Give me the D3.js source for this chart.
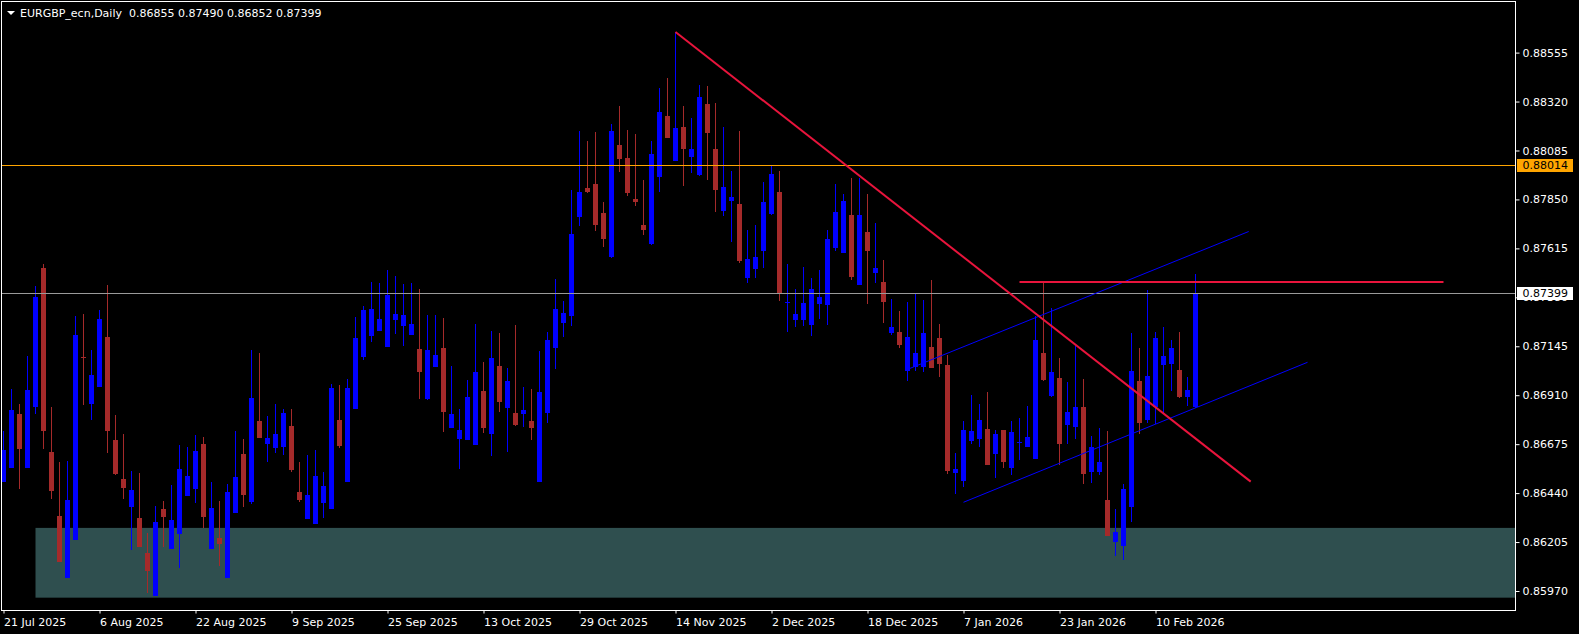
<!DOCTYPE html>
<html><head><meta charset="utf-8">
<script src="https://cdn.jsdelivr.net/npm/d3@7"></script>
<style>
html,body{margin:0;padding:0;background:#000;overflow:hidden}
svg{display:block}
</style></head><body>
<svg id="c" width="1579" height="634"></svg>
<script>
const chartTitle = "EURGBP_ecn,Daily  0.86855 0.87490 0.86852 0.87399";

const opens = [0.86495,0.86562,0.86820,0.86562,0.86855,0.87521,0.86637,0.86330,0.86034,0.86216,
0.87092,0.86869,0.86951,0.87190,0.86695,0.86508,0.86373,0.86321,0.86153,0.85948,
0.86364,0.86173,0.86245,0.86428,0.86461,0.86676,0.86173,0.86225,0.86034,0.86346,
0.86628,0.86399,0.86786,0.86677,0.86658,0.86662,0.86762,0.86445,0.86317,0.86293,
0.86394,0.86365,0.86791,0.86495,0.86845,0.87095,0.87196,0.87220,0.87143,0.87273,
0.87244,0.87201,0.87132,0.86893,0.87047,0.87137,0.86754,0.86701,0.86697,0.86673,
0.86930,0.86725,0.87050,0.86850,0.86825,0.86821,0.86786,0.86495,0.86826,0.87138,
0.87257,0.87292,0.87766,0.87905,0.87924,0.87785,0.87574,0.88111,0.88049,0.87852,
0.87727,0.87636,0.87958,0.88251,0.88035,0.88198,0.88054,0.87967,0.88308,0.88092,
0.87794,0.87842,0.87828,0.87473,0.87516,0.87602,0.87780,0.87886,0.87355,0.87271,
0.87271,0.87247,0.87350,0.87345,0.87618,0.87594,0.87775,0.87441,0.87694,0.87498,
0.87454,0.87210,0.87215,0.87026,0.87044,0.87046,0.87142,0.87185,0.87055,0.86537,
0.86498,0.86690,0.86700,0.86748,0.86628,0.86743,0.86561,0.86681,0.86662,0.86604,
0.87113,0.86906,0.86993,0.86767,0.86758,0.86854,0.86541,0.86541,0.86407,0.86207,
0.86188,0.86373,0.86978,0.86791,0.86854,0.87055,0.87060,0.87031,0.86902,0.86855];

const highs = [0.86738,0.86940,0.86868,0.87098,0.87434,0.87540,0.86854,0.86589,0.86594,0.87292,
0.87300,0.87127,0.87319,0.87439,0.86815,0.86724,0.86546,0.86537,0.86249,0.86378,
0.86402,0.86479,0.86671,0.86662,0.86719,0.86710,0.86493,0.86402,0.86484,0.86738,
0.86700,0.87127,0.87113,0.86810,0.86868,0.86844,0.86844,0.86589,0.86623,0.86647,
0.86541,0.86964,0.86959,0.86988,0.87286,0.87338,0.87454,0.87449,0.87511,0.87482,
0.87444,0.87449,0.87420,0.87295,0.87295,0.87281,0.87050,0.86844,0.86983,0.87252,
0.87070,0.87218,0.87209,0.87041,0.87247,0.86950,0.86940,0.87122,0.87214,0.87468,
0.87362,0.87895,0.88179,0.88131,0.88174,0.87838,0.88212,0.88299,0.88183,0.88164,
0.87943,0.88131,0.88385,0.88433,0.88654,0.88299,0.88241,0.88399,0.88395,0.88313,
0.88198,0.87986,0.88179,0.87703,0.87727,0.87934,0.88011,0.87986,0.87540,0.87420,
0.87526,0.87473,0.87511,0.87703,0.87924,0.87876,0.87953,0.87953,0.87876,0.87737,
0.87559,0.87372,0.87314,0.87358,0.87401,0.87367,0.87463,0.87252,0.87103,0.86633,
0.86786,0.86911,0.86868,0.86926,0.86743,0.86743,0.86786,0.86801,0.86858,0.87290,
0.87454,0.87329,0.87089,0.86974,0.87151,0.86988,0.86714,0.86753,0.86738,0.86364,
0.86484,0.87209,0.87137,0.87415,0.87214,0.87238,0.87175,0.87214,0.86998,0.87490];

const lows = [0.86495,0.86562,0.86461,0.86562,0.86820,0.86653,0.86413,0.86111,0.86034,0.86216,
0.86865,0.86793,0.86951,0.86634,0.86527,0.86413,0.86168,0.86183,0.85962,0.85948,
0.86183,0.86173,0.86082,0.86428,0.86394,0.86274,0.86173,0.86092,0.86034,0.86346,
0.86375,0.86389,0.86706,0.86591,0.86633,0.86623,0.86546,0.86399,0.86317,0.86293,
0.86322,0.86365,0.86658,0.86495,0.86845,0.87081,0.87167,0.87220,0.87143,0.87205,
0.87148,0.87201,0.86893,0.86889,0.87047,0.86735,0.86754,0.86557,0.86697,0.86673,
0.86730,0.86620,0.86831,0.86639,0.86764,0.86759,0.86697,0.86495,0.86778,0.87037,
0.87194,0.87247,0.87723,0.87881,0.87699,0.87622,0.87569,0.87982,0.87867,0.87819,
0.87684,0.87636,0.87886,0.88145,0.88035,0.87919,0.87977,0.87967,0.87948,0.87794,
0.87775,0.87650,0.87545,0.87449,0.87473,0.87521,0.87780,0.87367,0.87214,0.87242,
0.87247,0.87199,0.87277,0.87249,0.87604,0.87594,0.87465,0.87441,0.87350,0.87450,
0.87258,0.87201,0.87137,0.86983,0.87031,0.87022,0.87041,0.87002,0.86532,0.86436,
0.86474,0.86676,0.86662,0.86575,0.86513,0.86565,0.86527,0.86599,0.86662,0.86604,
0.86983,0.86906,0.86575,0.86676,0.86700,0.86484,0.86489,0.86527,0.86236,0.86140,
0.86119,0.86306,0.86724,0.86781,0.86772,0.86825,0.86935,0.86897,0.86863,0.86852];

const closes = [0.86647,0.86839,0.86653,0.86935,0.87380,0.86740,0.86452,0.86111,0.86407,0.87199,
0.87090,0.87007,0.87276,0.86740,0.86533,0.86466,0.86455,0.86183,0.86068,0.86301,
0.86325,0.86311,0.86556,0.86522,0.86642,0.86327,0.86369,0.86197,0.86445,0.86517,
0.86432,0.86897,0.86706,0.86705,0.86724,0.86825,0.86551,0.86408,0.86431,0.86522,
0.86474,0.86945,0.86668,0.86945,0.87185,0.87319,0.87324,0.87276,0.87391,0.87300,
0.87295,0.87252,0.87023,0.87127,0.87103,0.86831,0.86820,0.86743,0.86902,0.87022,
0.86754,0.87089,0.86879,0.86978,0.86769,0.86839,0.86754,0.86926,0.87175,0.87324,
0.87305,0.87684,0.87886,0.87886,0.87727,0.87660,0.88179,0.88044,0.87881,0.87838,
0.87703,0.88068,0.88270,0.88145,0.88193,0.88092,0.88092,0.88342,0.88169,0.87895,
0.87910,0.87862,0.87554,0.87564,0.87574,0.87838,0.87972,0.87396,0.87358,0.87300,
0.87353,0.87420,0.87382,0.87660,0.87790,0.87842,0.87479,0.87775,0.87604,0.87522,
0.87359,0.87238,0.87151,0.87190,0.87113,0.87209,0.87041,0.87060,0.86546,0.86556,
0.86743,0.86738,0.86791,0.86575,0.86724,0.86589,0.86733,0.86685,0.86710,0.87175,
0.86983,0.87022,0.86676,0.86830,0.86854,0.86532,0.86662,0.86589,0.86236,0.86253,
0.86460,0.87026,0.86777,0.87002,0.87185,0.87098,0.87137,0.86902,0.86935,0.87399];

const priceTicks = [0.88555,0.88320,0.88085,0.87850,0.87615,0.87380,0.87145,0.86910,0.86675,0.86440,0.86205,0.85970];
const dateTickBars = [0,12,24,36,48,60,72,84,96,108,120,132,144];
const dateTickLabels = ["21 Jul 2025","6 Aug 2025","22 Aug 2025","9 Sep 2025","25 Sep 2025","13 Oct 2025","29 Oct 2025","14 Nov 2025","2 Dec 2025","18 Dec 2025","7 Jan 2026","23 Jan 2026","10 Feb 2026"];

const levelPrice = 0.88014;
const bidPrice = 0.87399;
const zoneBars = [4, 200];
const zonePrices = [0.86273, 0.85938];
const trendBars = [84, 155.9];
const trendPrices = [0.88654, 0.86495];
const resistBars = [127, 180];
const resistPrices = [0.87454, 0.87454];
const upperChanBars = [112.8, 155.65];
const upperChanPrices = [0.87031, 0.87696];
const lowerChanBars = [120, 163];
const lowerChanPrices = [0.86396, 0.87068];

const W = 1579, H = 634;
const plot = {l: 1.5, r: 1515.5, t: 1.5, b: 610.5};
const FONT = '"DejaVu Sans", sans-serif';
const BULL = '#0000ff', BEAR = '#a52a2a', RED = '#e8143c';

const svg = d3.select('#c');
svg.append('rect').attr('width', W).attr('height', H).attr('fill', '#000');

const x = d3.scaleLinear().domain([0, 189]).range([3.5, 3.5 + 8 * 189]);
const y = d3.scaleLinear().domain([0.85970, 0.88555]).range([591.0, 52.6]);

svg.append('clipPath').attr('id', 'clip').append('rect')
  .attr('x', plot.l + 0.5).attr('y', plot.t + 0.5)
  .attr('width', plot.r - plot.l - 1).attr('height', plot.b - plot.t - 1);
const g = svg.append('g').attr('clip-path', 'url(#clip)');

// zone rectangle (background)
g.append('rect')
  .attr('x', x(zoneBars[0])).attr('y', y(zonePrices[0]))
  .attr('width', x(zoneBars[1]) - x(zoneBars[0]))
  .attr('height', y(zonePrices[1]) - y(zonePrices[0]))
  .attr('fill', '#2f4f4f');

// candles
const bars = opens.map((o, i) => ({i, o, h: highs[i], l: lows[i], c: closes[i]}));
const cg = g.append('g').attr('shape-rendering', 'crispEdges');
cg.selectAll('line.wick').data(bars).join('line')
  .attr('class', 'wick')
  .attr('x1', d => x(d.i)).attr('x2', d => x(d.i))
  .attr('y1', d => y(d.h)).attr('y2', d => y(d.l) + 0.5)
  .attr('stroke', d => d.c >= d.o ? BULL : BEAR).attr('stroke-width', 1);
cg.selectAll('rect.body').data(bars).join('rect')
  .attr('class', 'body')
  .attr('x', d => x(d.i) - 2.5).attr('width', 5)
  .attr('y', d => y(Math.max(d.o, d.c)))
  .attr('height', d => Math.max(1, y(Math.min(d.o, d.c)) - y(Math.max(d.o, d.c))))
  .attr('fill', d => d.c >= d.o ? BULL : BEAR);

// horizontal levels
g.append('line').attr('x1', plot.l).attr('x2', plot.r)
  .attr('y1', Math.round(y(levelPrice)) + 0.5).attr('y2', Math.round(y(levelPrice)) + 0.5)
  .attr('stroke', '#ffa500').attr('stroke-width', 1);
g.append('line').attr('x1', plot.l).attr('x2', plot.r)
  .attr('y1', Math.round(y(bidPrice)) + 0.5).attr('y2', Math.round(y(bidPrice)) + 0.5)
  .attr('stroke', '#9a9a9a').attr('stroke-width', 1);

// channel lines
const line = d3.line().x(d => x(d[0])).y(d => y(d[1]));
g.append('path').attr('d', line(d3.zip(upperChanBars, upperChanPrices)))
  .attr('stroke', BULL).attr('stroke-width', 1).attr('fill', 'none');
g.append('path').attr('d', line(d3.zip(lowerChanBars, lowerChanPrices)))
  .attr('stroke', BULL).attr('stroke-width', 1).attr('fill', 'none');
// trend + resistance
g.append('path').attr('d', line(d3.zip(trendBars, trendPrices)))
  .attr('stroke', RED).attr('stroke-width', 2).attr('fill', 'none');
g.append('path').attr('d', line(d3.zip(resistBars, resistPrices)))
  .attr('stroke', RED).attr('stroke-width', 2).attr('fill', 'none');

// price axis
const yAxis = d3.axisRight(y).tickValues(priceTicks).tickSize(4).tickPadding(3)
  .tickFormat(d3.format('.5f'));
svg.append('g').attr('transform', `translate(${plot.r},0)`).call(yAxis)
  .attr('font-family', FONT).attr('font-size', 11)
  .call(a => a.select('.domain').remove())
  .call(a => a.selectAll('line').attr('stroke', '#fff'))
  .call(a => a.selectAll('text').attr('fill', '#fff'));

// date axis
const xAxis = d3.axisBottom(x).tickValues(dateTickBars).tickSize(3).tickPadding(5)
  .tickFormat((d, i) => dateTickLabels[i]);
svg.append('g').attr('transform', `translate(0,${plot.b})`).call(xAxis)
  .attr('font-family', FONT).attr('font-size', 11)
  .call(a => a.select('.domain').remove())
  .call(a => a.selectAll('line').attr('stroke', '#fff'))
  .call(a => a.selectAll('text').attr('fill', '#fff').attr('text-anchor', 'start').attr('x', 0));

// price labels
function priceTag(p, bg) {
  const yy = y(p);
  svg.append('rect').attr('x', 1517).attr('y', Math.round(yy) - 6).attr('width', 56).attr('height', 13)
    .attr('fill', bg);
  svg.append('text').attr('x', 1522.5).attr('y', yy + 4)
    .attr('font-family', FONT).attr('font-size', 11).attr('fill', '#000')
    .text(d3.format('.5f')(p));
}
priceTag(levelPrice, '#ffa500');
priceTag(bidPrice, '#ffffff');

// border
svg.append('rect').attr('x', plot.l).attr('y', plot.t)
  .attr('width', plot.r - plot.l).attr('height', plot.b - plot.t)
  .attr('fill', 'none').attr('stroke', '#fff').attr('stroke-width', 1);

// title
svg.append('path').attr('d', 'M7,11 L15,11 L11,15 Z').attr('fill', '#fff');
svg.append('text').attr('x', 20).attr('y', 16.5)
  .attr('font-family', FONT).attr('font-size', 11).attr('fill', '#fff')
  .attr('xml:space', 'preserve').style('white-space', 'pre')
  .text(chartTitle);
</script>
</body></html>
